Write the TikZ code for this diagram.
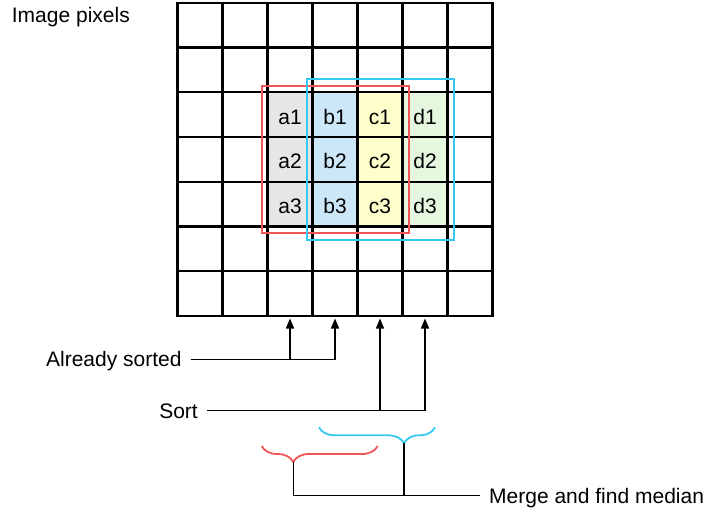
\documentclass[tikz,border=0pt]{standalone}
\usepackage{fontspec}
\setmainfont{Liberation Sans}
\usepackage{xcolor}
\usetikzlibrary{arrows.meta}
\usetikzlibrary{calc}
\usetikzlibrary{decorations.pathreplacing}

\definecolor{cellgray}{HTML}{E6E6E6}
\definecolor{cellblue}{HTML}{CCE8F8}
\definecolor{cellyellow}{HTML}{FFFFCC}
\definecolor{cellgreen}{HTML}{E6F7E0}
\definecolor{winred}{HTML}{F05555}
\definecolor{winblue}{HTML}{33C8F0}

\begin{document}
\begin{tikzpicture}[x=1pt,y=-1pt,font=\fontsize{21}{25}\selectfont,
    cell/.style={minimum width=45pt,minimum height=44.75pt,inner sep=0pt,text height=19pt,text depth=0pt},
    tag/.style={inner xsep=9pt,inner ysep=0pt,text height=15pt,text depth=0pt},
    link/.style={line width=1.5pt},
    rise/.style={link,-{Triangle[width=8pt,length=10pt]}},
    curly/.style={decorate,decoration={brace,mirror,amplitude=16pt,aspect=#1},line width=1.8pt}]
    \useasboundingbox (0,0) rectangle (706,517);
    % the 3x4 block of pixels
    \foreach \col/\cx/\tone in {a/290/cellgray,b/335/cellblue,c/380/cellyellow,d/425/cellgreen}
      \foreach \row/\cy in {1/114.575,2/159.325,3/204.075}
        \node[cell,fill=\tone] (\col\row) at (\cx,\cy) {\col\row};
    % image grid
    \foreach \i in {0,...,7} {
      \draw[line width=2.2pt,line cap=rect] (177.5+45*\i,2.7) -- (177.5+45*\i,315.95);
      \draw[line width=2.2pt,line cap=rect] (177.5,2.7+44.75*\i) -- (492.5,2.7+44.75*\i);
    }
    % the two windows
    \draw[winred,line width=2pt] ($(a1.north west)+(-5.8,-6.2)$) rectangle ($(c3.south east)+(6.2,6.2)$);
    \draw[winblue,line width=2pt] ($(b1.north west)+(-5.8,-12.9)$) rectangle ($(d3.south east)+(5.8,12.9)$);

    \node[tag,anchor=west] (pixels) at (2.7,14.5) {Image pixels};
    \node[tag,anchor=east] (sorted) at (190.7,359.3) {Already sorted};
    \node[tag,anchor=east] (sort) at (207,410.7) {Sort};
    \node[tag,anchor=west] (merge) at (480,495.5) {Merge and find median};

    \coordinate (foot) at (0,318.5);
    \draw[rise] (sorted.east) -| (b3 |- foot);
    \draw[rise] (a3 |- sorted.east) -- (a3 |- foot);
    \draw[rise] (sort.east) -| (d3 |- foot);
    \draw[rise] (c3 |- sort.east) -- (c3 |- foot);

    % braces for the columns of each window
    \coordinate (redL) at (261.7,446);
    \coordinate (redR) at (377.7,446);
    \coordinate (redtip) at (293.3,462);
    \coordinate (blueL) at (319,427.3);
    \coordinate (blueR) at (435,427.3);
    \coordinate (bluetip) at (404,443.3);
    \draw[curly=0.272,winred] (redL) -- (redR);
    \draw[curly=0.733,winblue] (blueL) -- (blueR);
    \draw[link] (redtip) |- (merge.west);
    \draw[link] (bluetip) -- (bluetip |- merge.west);
\end{tikzpicture}
\end{document}
